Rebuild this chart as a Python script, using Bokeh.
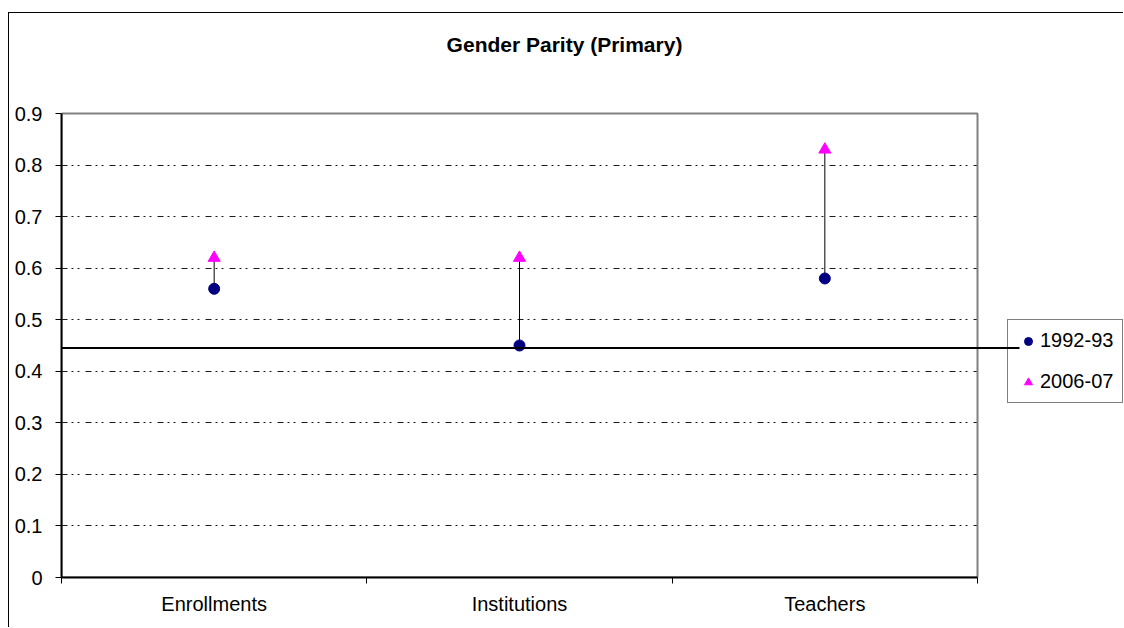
from bokeh.plotting import figure
from bokeh.models import (Range1d, FixedTicker, Legend, LegendItem, Arrow,
                          BoxAnnotation, Label)
from bokeh.embed import file_html
from bokeh.resources import INLINE

# ---- data -------------------------------------------------------------
categories = ["Enrollments", "Institutions", "Teachers"]
parity_1992_93 = [0.56, 0.45, 0.58]
parity_2006_07 = [0.62, 0.62, 0.83]
reference_level = 0.445
y_ticks = [0, 0.1, 0.2, 0.3, 0.4, 0.5, 0.6, 0.7, 0.8, 0.9]
y_tick_labels = ["0", "0.1", "0.2", "0.3", "0.4", "0.5", "0.6", "0.7", "0.8", "0.9"]
chart_title = "Gender Parity (Primary)"

# ---- layout constants (page pixels) ----------------------------------
PAGE_W, PAGE_H = 1124, 628
BOX_X, BOX_Y = 8, 12                    # outer chart border
OFF_X, OFF_Y = BOX_X + 1, BOX_Y + 1     # figure origin inside the border
AREA_L, AREA_T, AREA_R, AREA_B = 61, 113, 977, 577   # plotting area
W, H = PAGE_W - OFF_X, PAGE_H - OFF_Y
AREA_W, AREA_H = AREA_R - AREA_L, AREA_B - AREA_T
LEGEND_L, LEGEND_B = 1007, 403
LEGEND_MARK = 1019                      # reference line stops here
TITLE_CX, TITLE_CY = 564, 44

FONT = "Liberation Sans"
FS = "20px"

n = len(categories)
y_top = y_ticks[-1]
xpos = [i + 0.5 for i in range(n)]


def px_to_x(px):
    return n * (px - AREA_L) / AREA_W


def px_to_y(py):
    return y_top * (AREA_B - py) / AREA_H


p = figure(width=W, height=H, output_backend="svg", toolbar_location=None,
           x_range=Range1d(0, px_to_x(PAGE_W)),
           y_range=Range1d(y_ticks[0], px_to_y(OFF_Y)),
           min_border_left=AREA_L - OFF_X, min_border_right=0,
           min_border_top=0, min_border_bottom=PAGE_H - AREA_B)
p.margin = (BOX_Y, 0, 0, BOX_X)
p.styles = {"border-left": "1px solid black", "border-top": "1px solid black"}
p.background_fill_color = "white"
p.border_fill_color = "white"
p.outline_line_color = None

p.add_layout(Label(x=px_to_x(TITLE_CX), y=px_to_y(TITLE_CY), text=chart_title,
                   text_align="center", text_baseline="middle",
                   text_font=FONT, text_font_size="21px",
                   text_font_style="bold", text_color="black"))

# plotting-area border (gray top and right edges)
p.add_layout(BoxAnnotation(left=0, right=n, bottom=y_ticks[0], top=y_top,
                           fill_alpha=0, line_color="#808080", line_alpha=1,
                           line_width=2, level="underlay"))

# y axis
p.yaxis.ticker = FixedTicker(ticks=y_ticks)
p.yaxis.bounds = (y_ticks[0], y_top)
p.yaxis.major_label_overrides = dict(zip(y_ticks, y_tick_labels))
p.yaxis.axis_line_color = "black"
p.yaxis.axis_line_width = 2
p.yaxis.major_tick_line_color = "black"
p.yaxis.major_tick_out = 6
p.yaxis.major_tick_in = 0
p.yaxis.minor_tick_line_color = None
p.yaxis.major_label_standoff = 13
p.yaxis.major_label_text_font = FONT
p.yaxis.major_label_text_font_size = FS
p.yaxis.major_label_text_color = "black"

# x axis: labels centred on categories, tick marks on the boundaries
p.xaxis.ticker = FixedTicker(ticks=xpos, minor_ticks=list(range(n + 1)))
p.xaxis.bounds = (0, n)
p.xaxis.major_label_overrides = dict(zip(xpos, categories))
p.xaxis.axis_line_color = "black"
p.xaxis.axis_line_width = 2
p.xaxis.major_tick_line_color = None
p.xaxis.major_tick_out = 0
p.xaxis.major_tick_in = 0
p.xaxis.minor_tick_line_color = "black"
p.xaxis.minor_tick_out = 6
p.xaxis.minor_tick_in = 0
p.xaxis.major_label_standoff = 9
p.xaxis.major_label_text_font = FONT
p.xaxis.major_label_text_font_size = FS
p.xaxis.major_label_text_color = "black"

# grid
p.xgrid.grid_line_color = None
p.ygrid.ticker = FixedTicker(ticks=y_ticks[1:-1])
p.ygrid.cross_bounds = (0, n)
p.ygrid.grid_line_color = "#1a1a1a"
p.ygrid.grid_line_width = 1
p.ygrid.grid_line_dash = "6 4 2 4 2 6"

# high-low connectors
p.segment(x0=xpos, y0=parity_1992_93, x1=xpos, y1=parity_2006_07,
          line_color="black", line_width=1)

r1 = p.scatter(xpos, parity_1992_93, marker="circle", size=11,
               fill_color="#000080", line_color="#000080")
r2 = p.scatter(xpos, parity_2006_07, marker="triangle", size=12,
               fill_color="#FF00FF", line_color="#FF00FF")

legend = Legend(items=[LegendItem(label="1992-93", renderers=[r1]),
                       LegendItem(label="2006-07", renderers=[r2])],
                location=(LEGEND_L - AREA_L, AREA_B - LEGEND_B),
                orientation="vertical",
                border_line_color="black", border_line_width=1,
                background_fill_alpha=0,
                padding=9, spacing=18, margin=0,
                glyph_width=22, glyph_height=20, label_height=20,
                label_standoff=1, label_text_font=FONT,
                label_text_font_size=FS, label_text_color="black")
p.add_layout(legend, "center")

# horizontal reference line running out to the legend marker
ref = Arrow(end=None, x_start=0, y_start=reference_level,
            x_end=px_to_x(LEGEND_MARK), y_end=reference_level,
            line_color="black", line_width=2)
p.add_layout(ref)

open("out.html", "w").write(file_html(p, INLINE))
